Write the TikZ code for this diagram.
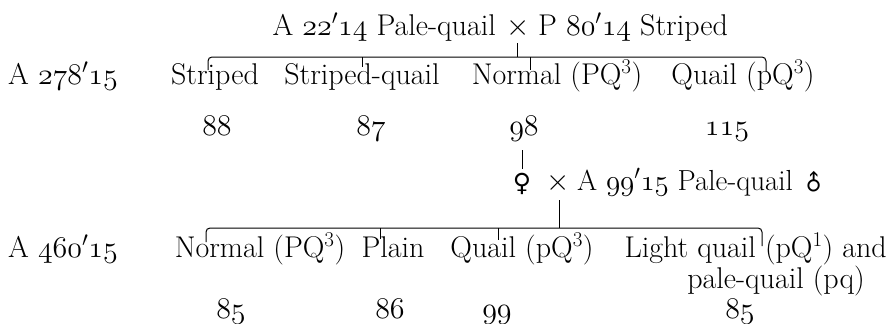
\RequirePackage{fix-cm}
\documentclass[tikz,border=0pt]{standalone}
\usepackage{fontspec}
\newfontfamily\symfont{DejaVu Sans}
\newcommand{\on}[1]{\ensuremath{\mathnormal{#1}}}
\begin{document}
\begin{tikzpicture}[x=1pt,y=-1pt,
  lbl/.style={inner sep=0pt, anchor=base, font=\fontsize{30}{36}\selectfont},
  br/.style={line width=1pt, rounded corners=4pt},
  tk/.style={line width=1pt}]
\useasboundingbox (0,0) rectangle (889,324);
% parents
\node[lbl, anchor=base east] (p1) at (496,35) {A \on{22'14} Pale-quail};
\node[lbl] (x1) at (518,35) {$\times$};
\node[lbl, anchor=base west] (p2) at (538,35) {P \on{80'14} Striped};
% first generation
\node[lbl, anchor=base west] (g1) at (8,84) {A \on{278'15}};
\node[lbl] (c1) at (215,84) {Striped};
\node[lbl] (c2) at (362,84) {Striped-quail};
\node[lbl] (c3) at (557,84) {Normal (PQ\textsuperscript{3})};
\node[lbl] (c4) at (743,84) {Quail (pQ\textsuperscript{3})};
\node[lbl] (n1) at (217,135) {\on{88}};
\node[lbl] (n2) at (371,135) {\on{87}};
\node[lbl] (n3) at (524,135) {\on{98}};
\node[lbl] (n4) at (727,135) {\on{115}};
% second cross
\node[lbl, font=\fontsize{25}{30}\selectfont\symfont] (fem) at (522,191) {♀};
\node[lbl] (x2) at (558,190) {$\times$};
\node[lbl, anchor=base west, font=\fontsize{29}{36}\selectfont] (p3) at (577,190) {A \on{99'15} Pale-quail};
\node[lbl, anchor=center, font=\fontsize{22}{30}\selectfont\symfont] (male) at (814,183) {\rotatebox[origin=c]{45}{♂}};
% second generation
\node[lbl, anchor=base west] (g2) at (8,257) {A \on{460'15}};
\node[lbl] (d1) at (260,257) {Normal (PQ\textsuperscript{3})};
\node[lbl] (d2) at (393,257) {Plain};
\node[lbl] (d3) at (522,257) {Quail (pQ\textsuperscript{3})};
\node[lbl, anchor=base east] (d4) at (887,257) {Light quail (pQ\textsuperscript{1}) and};
\node[lbl] (d5) at (776,288) {pale-quail (pq)};
\node[lbl] (m1) at (231,318) {\on{85}};
\node[lbl] (m2) at (390,318) {\on{86}};
\node[lbl] (m3) at (497,318) {\on{99}};
\node[lbl] (m4) at (740,318) {\on{85}};
% bracket 1
\coordinate (b1a) at (208,70);
\coordinate (b1r) at (766,57);
\coordinate (b1b) at (766,72);
\draw[br] (b1a) |- (b1r) -- (b1b);
\coordinate (t1a) at (362,57);
\coordinate (t1b) at (362,67);
\draw[tk] (t1a) -- (t1b);
\coordinate (t2a) at (517,43);
\coordinate (t2b) at (517,57);
\draw[tk] (t2a) -- (t2b);
\coordinate (t3a) at (530,57);
\coordinate (t3b) at (530,70);
\draw[tk] (t3a) -- (t3b);
% female line
\coordinate (f1) at (522,150);
\coordinate (f2) at (522,169);
\draw[tk] (f1) -- (f2);
% bracket 2
\coordinate (b2a) at (206,242);
\coordinate (b2r) at (762,228);
\coordinate (b2b) at (762,246);
\draw[br] (b2a) |- (b2r) -- (b2b);
\coordinate (s1a) at (380,228);
\coordinate (s1b) at (380,239);
\draw[tk] (s1a) -- (s1b);
\coordinate (s2a) at (498,228);
\coordinate (s2b) at (498,240);
\draw[tk] (s2a) -- (s2b);
\coordinate (s3a) at (559,200);
\coordinate (s3b) at (559,228);
\draw[tk] (s3a) -- (s3b);
\end{tikzpicture}
\end{document}
